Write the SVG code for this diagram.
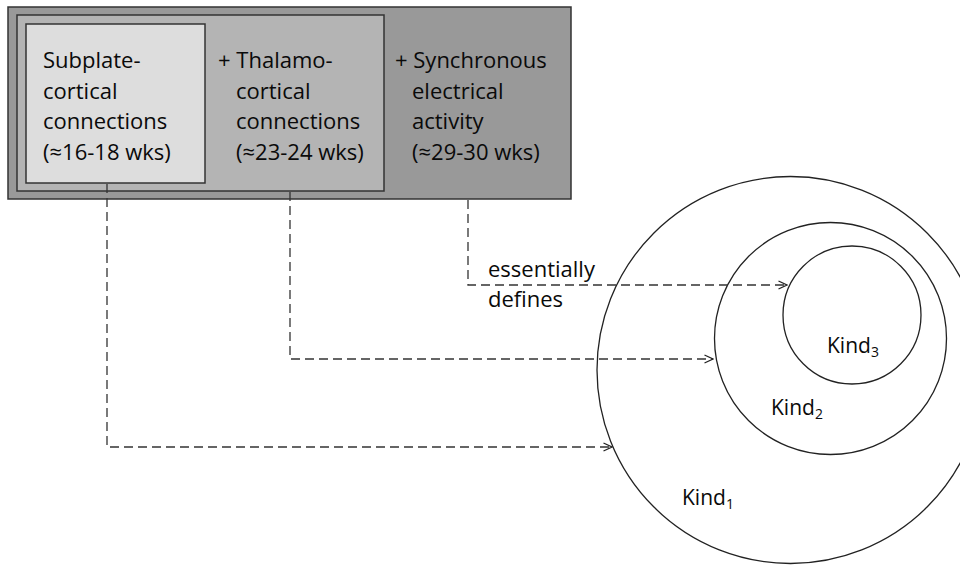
<svg xmlns="http://www.w3.org/2000/svg" width="960" height="565" viewBox="0 0 960 565">
  <defs>
    <marker id="arrow" viewBox="0 0 10 10" refX="9.5" refY="5" markerWidth="10" markerHeight="10" markerUnits="userSpaceOnUse" orient="auto">
      <path d="M1,1 L9.5,5 L1,9" fill="none" stroke="#222" stroke-width="1.3"/>
    </marker>
    <style>
      .box { stroke: #333; stroke-width: 1.5; }
      .lbl { font-family: "Open Sans", "Liberation Sans", sans-serif; font-size: 22px; fill: #0a0a0a; }
      .kind { font-family: "Open Sans", "Liberation Sans", sans-serif; font-size: 21px; fill: #0a0a0a; }
      .sub { font-size: 14px; }
      .ring { fill: none; stroke: #222; stroke-width: 1.3; }
      .dash { fill: none; stroke: #333; stroke-width: 1.3; stroke-dasharray: 9 5; }
    </style>
  </defs>

  <rect width="960" height="565" fill="#fff"/>

  <!-- nested stage boxes -->
  <g id="stage3">
    <rect class="box" x="8" y="7" width="563" height="192" fill="#999999"/>
    <text class="lbl" x="395" y="68">+ Synchronous</text>
    <text class="lbl" x="412" y="99">electrical</text>
    <text class="lbl" x="412" y="129">activity</text>
    <text class="lbl" x="412" y="160">(≈29-30 wks)</text>
  </g>
  <g id="stage2">
    <rect class="box" x="17" y="15" width="367" height="176" fill="#b4b4b4"/>
    <text class="lbl" x="218" y="68">+ Thalamo-</text>
    <text class="lbl" x="236" y="99">cortical</text>
    <text class="lbl" x="236" y="129">connections</text>
    <text class="lbl" x="236" y="160">(≈23-24 wks)</text>
  </g>
  <g id="stage1">
    <rect class="box" x="26" y="24" width="179" height="159" fill="#dddddd"/>
    <text class="lbl" x="43" y="68">Subplate-</text>
    <text class="lbl" x="43" y="99">cortical</text>
    <text class="lbl" x="43" y="129">connections</text>
    <text class="lbl" x="43" y="160">(≈16-18 wks)</text>
  </g>

  <!-- nested kinds -->
  <g id="kind1">
    <circle class="ring" cx="790.5" cy="370" r="193.5"/>
    <text class="kind" x="682" y="505">Kind<tspan class="sub" dy="4">1</tspan></text>
  </g>
  <g id="kind2">
    <circle class="ring" cx="830.5" cy="338.5" r="116"/>
    <text class="kind" x="771" y="415">Kind<tspan class="sub" dy="4">2</tspan></text>
  </g>
  <g id="kind3">
    <circle class="ring" cx="852" cy="315" r="69"/>
    <text class="kind" x="827" y="353">Kind<tspan class="sub" dy="4">3</tspan></text>
  </g>

  <!-- connectors -->
  <g id="connectors">
    <path class="dash" d="M107,184 V447 H612" marker-end="url(#arrow)"/>
    <path class="dash" d="M290,192 V359 H713" marker-end="url(#arrow)"/>
    <path class="dash" d="M468,200 V285 H787" marker-end="url(#arrow)"/>
    <text class="lbl" x="488" y="277">essentially</text>
    <text class="lbl" x="488" y="307">defines</text>
  </g>
</svg>
